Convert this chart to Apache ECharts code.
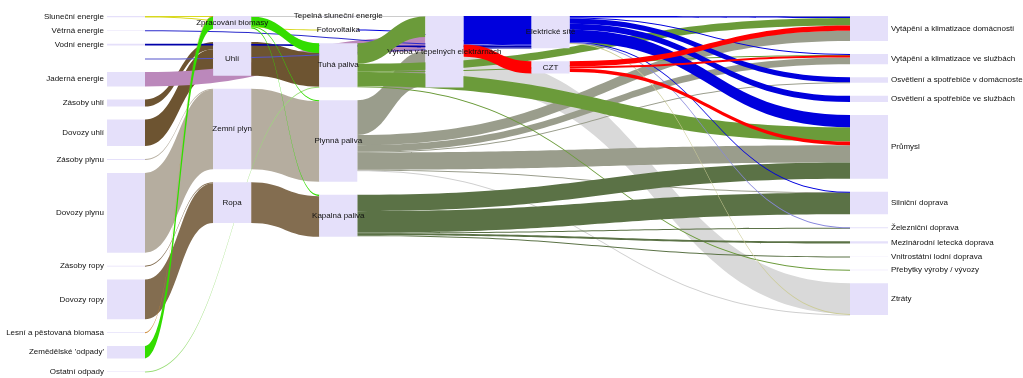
<!DOCTYPE html>
<html>
<head>
<meta charset="utf-8">
<script src="https://cdn.jsdelivr.net/npm/echarts@6/dist/echarts.min.js"></script>
<style>
  html, body { margin: 0; padding: 0; background: #fff; }
  #chart-container { width: 1023px; height: 378px; }
</style>
</head>
<body>
<div id="chart-container"></div>
<script>
// uzly po sloupcich (zleva doprava), v poradi shora dolu
var zdroje = [
  "Sluneční energie", "Větrná energie", "Vodní energie", "Přečerpávací elektrárny",
  "Jaderná energie", "Zásoby uhlí", "Dovozy uhlí", "Zásoby plynu", "Dovozy plynu",
  "Zásoby ropy", "Dovozy ropy", "Lesní a pěstovaná biomasa", "Zemědělské 'odpady'",
  "Ostatní odpady"
];
var primarni = ["Zpracování biomasy", "Uhlí", "Zemní plyn", "Ropa"];
var paliva = ["Tepelná sluneční energie", "Fotovoltaika", "Tuhá paliva", "Plynná paliva", "Kapalná paliva"];
var vyroba = ["Výroba v tepelných elektrárnách"];
var site = ["Elektrické sítě", "CZT"];
var spotreba = [
  "Vytápění a klimatizace domácností", "Vytápění a klimatizace ve službách",
  "Osvětlení a spotřebiče v domácnostech", "Osvětlení a spotřebiče ve službách",
  "Průmysl", "Silniční doprava", "Železniční doprava", "Mezinárodní letecká doprava",
  "Vnitrostátní lodní doprava", "Přebytky výroby / vývozy", "Ztráty"
];
var bezPopisku = ["Přečerpávací elektrárny"];

// toky: [zdroj, cil, hodnota, nositel]
var toky = [
  ["Zásoby uhlí", "Uhlí", 7, "uhli"],
  ["Dovozy uhlí", "Uhlí", 26, "uhli"],
  ["Zásoby plynu", "Zemní plyn", 0.8, "plyn"],
  ["Dovozy plynu", "Zemní plyn", 78, "plyn"],
  ["Zásoby ropy", "Ropa", 0.8, "ropa"],
  ["Dovozy ropy", "Ropa", 39, "ropa"],
  ["Jaderná energie", "Výroba v tepelných elektrárnách", 14, "jadro"],
  ["Uhlí", "Tuhá paliva", 33, "uhli"],
  ["Zemní plyn", "Plynná paliva", 78.8, "plyn"],
  ["Ropa", "Kapalná paliva", 39.8, "ropa"],
  ["Sluneční energie", "Tepelná sluneční energie", 0.4, "slunce"],
  ["Sluneční energie", "Fotovoltaika", 0.8, "slunce"],
  ["Větrná energie", "Elektrické sítě", 0.6, "vitr"],
  ["Vodní energie", "Elektrické sítě", 1.6, "voda"],
  ["Přečerpávací elektrárny", "Elektrické sítě", 0.6, "voda2"],
  ["Fotovoltaika", "Elektrické sítě", 0.8, "elektrina"],
  ["Tepelná sluneční energie", "Vytápění a klimatizace domácností", 0.4, "slunceTeplo"],
  ["Lesní a pěstovaná biomasa", "Zpracování biomasy", 0.8, "les"],
  ["Zemědělské 'odpady'", "Zpracování biomasy", 12, "bio"],
  ["Ostatní odpady", "Tuhá paliva", 0.6, "odpad"],
  ["Zpracování biomasy", "Tuhá paliva", 9.5, "bio"],
  ["Zpracování biomasy", "Plynná paliva", 1, "bio"],
  ["Zpracování biomasy", "Kapalná paliva", 1.3, "bio"],
  ["Zpracování biomasy", "Výroba v tepelných elektrárnách", 0.5, "svetle"],
  ["Výroba v tepelných elektrárnách", "Ztráty", 30, "ztraty"],
  ["Plynná paliva", "Výroba v tepelných elektrárnách", 34, "plynna"],
  ["Plynná paliva", "Vytápění a klimatizace domácností", 10, "plynna"],
  ["Plynná paliva", "Vytápění a klimatizace ve službách", 6.5, "plynna"],
  ["Plynná paliva", "Osvětlení a spotřebiče v domácnostech", 0.5, "plynna"],
  ["Plynná paliva", "Průmysl", 17, "plynna"],
  ["Plynná paliva", "Silniční doprava", 0.5, "plynna"],
  ["Plynná paliva", "Ztráty", 0.5, "ztraty2"],
  ["Tuhá paliva", "Výroba v tepelných elektrárnách", 20, "tuha"],
  ["Tuhá paliva", "Vytápění a klimatizace domácností", 7.5, "tuha"],
  ["Tuhá paliva", "Vytápění a klimatizace ve službách", 0.6, "tuha"],
  ["Tuhá paliva", "Průmysl", 14, "tuha"],
  ["Tuhá paliva", "Přebytky výroby / vývozy", 0.5, "tuha"],
  ["Kapalná paliva", "Průmysl", 16, "kapalna"],
  ["Kapalná paliva", "Silniční doprava", 21, "kapalna"],
  ["Kapalná paliva", "Železniční doprava", 0.5, "kapalna"],
  ["Kapalná paliva", "Mezinárodní letecká doprava", 2, "kapalna"],
  ["Kapalná paliva", "Vnitrostátní lodní doprava", 0.3, "kapalna"],
  ["Výroba v tepelných elektrárnách", "Elektrické sítě", 28, "elektrina"],
  ["Elektrické sítě", "Vytápění a klimatizace domácností", 1.5, "elektrina"],
  ["Elektrické sítě", "Vytápění a klimatizace ve službách", 1, "elektrina"],
  ["Elektrické sítě", "Osvětlení a spotřebiče v domácnostech", 5, "elektrina"],
  ["Elektrické sítě", "Osvětlení a spotřebiče ve službách", 6, "elektrina"],
  ["Elektrické sítě", "Průmysl", 12, "elektrina"],
  ["Elektrické sítě", "Silniční doprava", 0.4, "elektrina"],
  ["Elektrické sítě", "Železniční doprava", 0.6, "elektrina2"],
  ["Elektrické sítě", "Ztráty", 0.6, "ztraty3"],
  ["Výroba v tepelných elektrárnách", "CZT", 12, "teplo"],
  ["CZT", "Vytápění a klimatizace domácností", 5, "teplo"],
  ["CZT", "Vytápění a klimatizace ve službách", 2, "teplo"],
  ["CZT", "Průmysl", 3.5, "teplo"]
];

var barvy = {
  uhli: "#6d5431", plyn: "#b5ad9f", ropa: "#836d50", jadro: "#bb88bb",
  slunce: "#d8d820", slunceTeplo: "#eeeea0", vitr: "#2a2acc", voda: "#0000aa", voda2: "#5555cc",
  elektrina: "#0000dd", elektrina2: "#8888dd", les: "#cc8833", bio: "#33dd00", odpad: "#99dd77",
  svetle: "#cccccc", ztraty: "#d9d9d9", ztraty2: "#cfcfcf", ztraty3: "#cccc99",
  plynna: "#9a9d8c", tuha: "#6b9b3a", kapalna: "#5b7246", teplo: "#ff0000"
};

// sloupce 5 a 6 jsou prazdne, spotreba je az v poslednim
var sloupce = [zdroje, primarni, paliva, vyroba, site, [], [], spotreba];

var nodes = [];
sloupce.forEach(function (col, depth) {
  col.forEach(function (name) {
    var item = { name: name, depth: depth };
    if (depth === 0) item.label = { position: "left" };
    else if (depth === sloupce.length - 1) item.label = { position: "right" };
    if (bezPopisku.indexOf(name) >= 0) {
      item.label = { show: false };
      item.itemStyle = { opacity: 0 };
    }
    nodes.push(item);
  });
});

var links = toky.map(function (t) {
  return { source: t[0], target: t[1], value: t[2], lineStyle: { color: barvy[t[3]] } };
});

var dom = document.getElementById("chart-container");
var myChart = echarts.init(dom, null, { renderer: "canvas" });

var option = {
  animation: false,
  series: [
    {
      type: "sankey",
      left: 107,
      right: 135,
      top: 16,
      bottom: 6,
      nodeWidth: 38,
      nodeGap: 13,
      layoutIterations: 0, // zachovat poradi uzlu
      draggable: false,
      emphasis: { disabled: true },
      data: nodes,
      links: links,
      itemStyle: { color: "#e5e0fa", borderWidth: 0 },
      lineStyle: { opacity: 1, curveness: 0.5 },
      label: {
        position: "inside",
        distance: 3,
        color: "#111",
        fontSize: 8,
        fontFamily: "Liberation Sans, Arial, sans-serif"
      }
    }
  ]
};

myChart.setOption(option);
window.addEventListener("resize", myChart.resize);
</script>
</body>
</html>
